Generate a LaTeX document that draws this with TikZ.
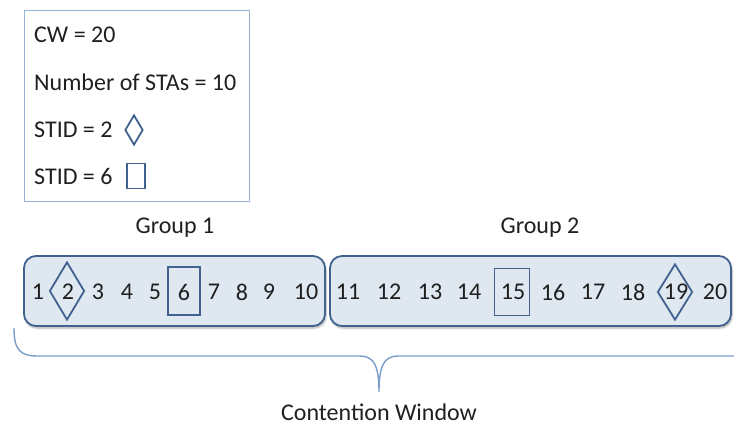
\documentclass[tikz,border=0pt]{standalone}
\usepackage{fontspec}
\setmainfont{Carlito}
\usepackage{tikz}
\usetikzlibrary{positioning,shapes.geometric,shadows.blur}
\definecolor{ink}{HTML}{1F1F1F}
\definecolor{frame}{HTML}{41628F}
\definecolor{tint}{HTML}{DFE7F1}
\definecolor{pale}{HTML}{95B3D7}
\definecolor{bracecol}{HTML}{7A9CCB}

\begin{document}
\begin{tikzpicture}[x=1pt, y=-1pt,
    font=\fontsize{24}{28}\selectfont, text=ink,
    txt/.style={inner sep=0pt, anchor=west},
    num/.style={inner sep=0pt},
    grp/.style={draw=frame, line width=1.8pt, fill=tint, rounded corners=12pt,
                blur shadow={shadow xshift=1pt, shadow yshift=-2pt,
                             shadow blur radius=2pt, shadow opacity=35}},
    dia/.style={diamond, draw=frame, line width=1.8pt, inner sep=0pt},
    sq/.style={rectangle, draw=frame, line width=1.8pt, inner sep=0pt}]
  \useasboundingbox (0,0) rectangle (734,426);

  % legend
  \node[draw=pale, line width=1pt, minimum width=225pt, minimum height=191pt,
        anchor=north west] (legend) at (24,10) {};
  \node[txt] (cw)   at (34,35)  {CW = 20};
  \node[txt] (nsta) at (34,82)  {Number of STAs = 10};
  \node[txt] (st2)  at (34,130) {STID = 2};
  \node[txt] (st6)  at (34,176) {STID = 6};
  \node[dia, minimum width=18pt, minimum height=30pt] (key2) at (134,130) {};
  \node[sq, minimum width=18pt, minimum height=25pt] (key6) at (136,176) {};

  % groups
  \node[grp, minimum width=301pt, minimum height=70pt] (grp1) at (174.5,291) {};
  \node[grp, minimum width=401pt, minimum height=70pt] (grp2) at (530.5,291) {};
  \node[num] (g1) at (175,228) {Group 1};
  \node[num] (g2) at (540,228) {Group 2};

  \foreach \n/\x in {1/38, 2/68, 3/98, 4/127, 5/155, 6/184, 7/214, 8/242, 9/269,
                     10/306, 11/348, 12/389, 13/430, 14/469, 15/513, 16/553,
                     17/593, 18/633, 19/676, 20/715}
    \node[num] (n\n) at (\x,292) {\n};

  % chosen slots
  \node[dia, minimum width=35pt, minimum height=58pt] (m2)  at (67,291)  {};
  \node[sq,  minimum width=32pt, minimum height=48pt] (m6)  at (184,291) {};
  \node[sq,  minimum width=35pt, minimum height=47pt] (m15) at (512,292) {};
  \node[dia, minimum width=35pt, minimum height=56pt] (m19) at (675,292) {};

  % brace
  \coordinate (bl)  at (14,328);
  \coordinate (tip) at (379,392);
  \coordinate (br)  at (734,356);
  \draw[bracecol, line width=1.4pt]
    (bl) .. controls (14,350) and (20,356) .. (38,356) -- (360,356)
         .. controls (374,356) and (379,366) .. (tip)
         .. controls (379,366) and (384,356) .. (398,356) -- (br);
  \node[num] (cwin) at (379,412) {Contention Window};
\end{tikzpicture}
\end{document}
